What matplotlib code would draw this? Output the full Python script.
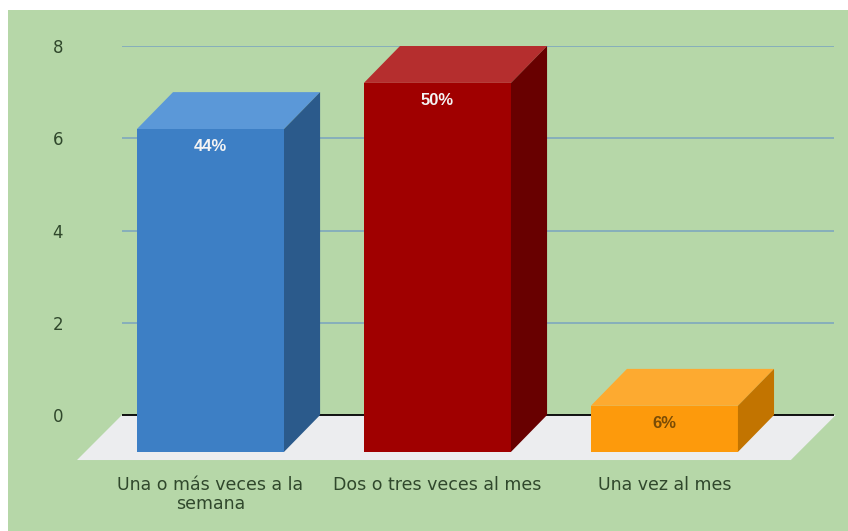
import numpy as np
import matplotlib.pyplot as plt
from matplotlib.patches import Polygon, Rectangle

categories = ["Una o más veces a la\nsemana", "Dos o tres veces al mes", "Una vez al mes"]
values = [7, 8, 1]
pct_labels = ["44%", "50%", "6%"]
yticks = [0, 2, 4, 6, 8]

front_colors = ["#3d7fc5", "#a00000", "#fd9a0c"]
top_colors = ["#5b98d8", "#b52e2e", "#fdaa30"]
side_colors = ["#2b5a8b", "#680000", "#c27400"]
label_colors = ["#f4f4f4", "#f4f4f4", "#7a4c05"]

plt.rcParams['font.family'] = ['DejaVu Sans']

W, H = 848, 531
fig = plt.figure(figsize=(W / 100, H / 100), dpi=100, facecolor="white")
# green panel, white strip top and left
fig.add_artist(Rectangle((8 / W, 0), 1, 1 - 10 / H, transform=fig.transFigure,
                         facecolor="#b6d7a8", edgecolor="none", zorder=-10))

ax = fig.add_axes([77 / W, (H - 461) / H, (836 - 77) / W, (461 - 46) / H])
ax.set_zorder(5)
ax.set_facecolor("none")
ax.set_xlim(-0.588, 2.756)
ax.set_ylim(-0.997, 8)
for s in ax.spines.values():
    s.set_visible(False)

w = 0.648     # bar width (category units)
ddx = 0.159   # depth offset x
ddy = 0.80    # depth offset y
x0, x1 = -0.39, 2.745

# floor
fdx, fdy = 0.198, 0.976
ax.add_patch(Polygon([(x0, 0), (x1 + 0.01, 0), (x1 + 0.01 - fdx, -fdy), (x0 - fdx, -fdy)],
                     closed=True, facecolor="#ecedef", edgecolor="none", zorder=1, clip_on=False))

# gridlines on back wall
ax.hlines([t for t in yticks if t != 0], x0, x1, colors="#86aebb", linewidth=1.4, zorder=2)
ax.hlines(0, x0, x1, colors="black", linewidth=1.3, zorder=2)

for i, v in enumerate(values):
    l, r = i - w / 2, i + w / 2
    ax.add_patch(Rectangle((l, -ddy), w, v, facecolor=front_colors[i], edgecolor="none", zorder=4))
    ax.add_patch(Polygon([(l, v - ddy), (r, v - ddy), (r + ddx, v), (l + ddx, v)], closed=True,
                         facecolor=top_colors[i], edgecolor="none", zorder=4))
    ax.add_patch(Polygon([(r, -ddy), (r + ddx, 0), (r + ddx, v), (r, v - ddy)], closed=True,
                         facecolor=side_colors[i], edgecolor="none", zorder=4))
    ax.text(i, v - ddy - 0.38, pct_labels[i], ha="center", va="center", fontsize=12,
            fontweight="bold", color=label_colors[i], zorder=5, family="Liberation Sans")

ax.set_yticks(yticks)
ax.set_xticks(range(len(categories)))
ax.set_xticklabels(categories)
ax.tick_params(axis="y", length=0, pad=10, labelsize=12, labelcolor="#30482c")
ax.tick_params(axis="x", length=0, pad=11, labelsize=12.5, labelcolor="#30482c")
for lab in ax.get_xticklabels():
    lab.set_linespacing(1.05)

fig.savefig("out.png", dpi=100, facecolor=fig.get_facecolor())
